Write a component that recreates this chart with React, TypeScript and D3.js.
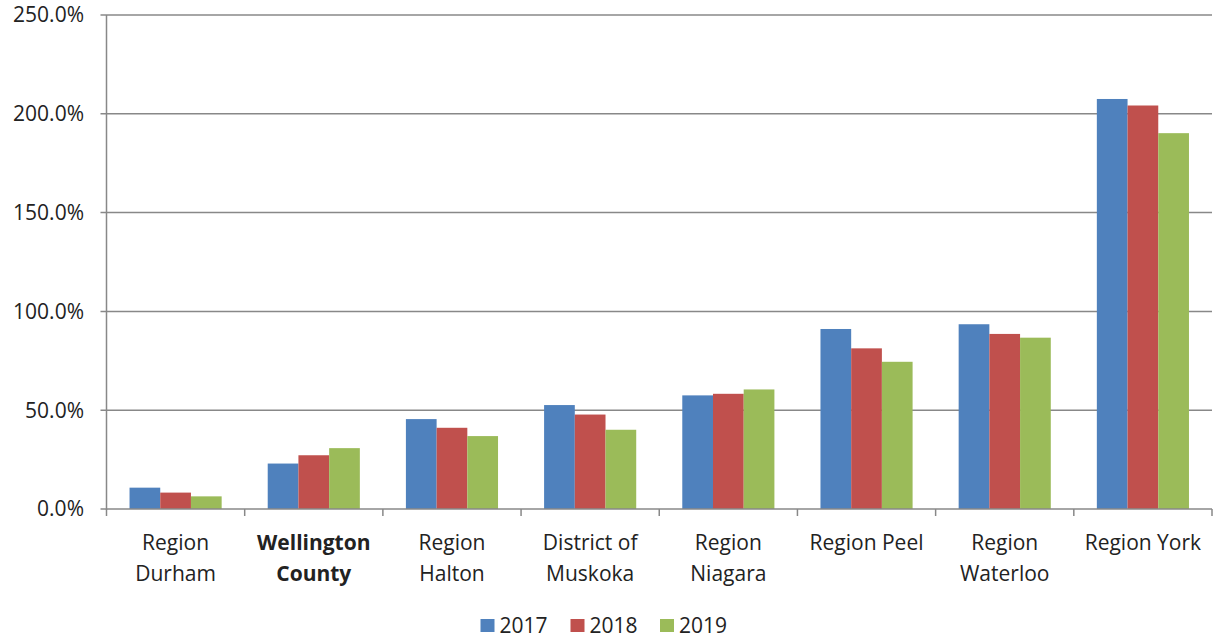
import { useEffect, useRef } from "react";
import * as d3 from "d3";

const categories: string[][] = [
  ["Region", "Durham"],
  ["Wellington", "County"],
  ["Region", "Halton"],
  ["District of", "Muskoka"],
  ["Region", "Niagara"],
  ["Region Peel"],
  ["Region", "Waterloo"],
  ["Region York"],
];
const boldIndex = 1;
const years = ["2017", "2018", "2019"];
const values2017 = [10.8, 23.0, 45.5, 52.6, 57.5, 91.1, 93.5, 207.5];
const values2018 = [8.3, 27.2, 41.1, 47.8, 58.3, 81.3, 88.6, 204.2];
const values2019 = [6.4, 30.8, 36.9, 40.1, 60.5, 74.5, 86.7, 190.2];
const yTicks = [0, 50, 100, 150, 200, 250];
const colors = ["#4F81BD", "#C0504D", "#9BBB59"];

const W = 1220;
const H = 641;
const m = { left: 106.5, right: 8, top: 15, bottom: 132 };
const FONT = "'Open Sans', sans-serif";
const FS = 21;

export default function App() {
  const ref = useRef<SVGSVGElement>(null);

  useEffect(() => {
    const svg = d3.select(ref.current);
    svg.selectAll("*").remove();
    const series = [values2017, values2018, values2019];
    const x0 = d3
      .scaleBand<number>()
      .domain(d3.range(categories.length))
      .range([m.left, W - m.right])
      .paddingInner(0)
      .paddingOuter(0);
    const x1 = d3
      .scaleBand<number>()
      .domain([0, 1, 2])
      .range([0, x0.bandwidth()])
      .paddingOuter(0.75)
      .paddingInner(0);
    const y = d3
      .scaleLinear()
      .domain([0, 250])
      .range([H - m.bottom, m.top]);

    // grid
    svg
      .append("g")
      .selectAll("line")
      .data(yTicks.filter((t) => t > 0))
      .join("line")
      .attr("x1", m.left - 6)
      .attr("x2", W - m.right)
      .attr("y1", (d) => y(d))
      .attr("y2", (d) => y(d))
      .attr("stroke", "#888")
      .attr("stroke-width", 1.5);

    // bars
    series.forEach((vals, si) => {
      svg
        .append("g")
        .selectAll("rect")
        .data(vals)
        .join("rect")
        .attr("x", (d, i) => x0(i)! + x1(si)!)
        .attr("width", x1.bandwidth())
        .attr("y", (d) => y(d))
        .attr("height", (d) => y(0) - y(d))
        .attr("fill", colors[si]);
    });

    // y axis
    const yAxis = svg.append("g");
    yAxis
      .append("line")
      .attr("x1", m.left)
      .attr("x2", m.left)
      .attr("y1", y(250))
      .attr("y2", y(0) + 1)
      .attr("stroke", "#888")
      .attr("stroke-width", 1.5);
    yAxis
      .selectAll("text")
      .data(yTicks)
      .join("text")
      .attr("x", 84)
      .attr("y", (d) => y(d))
      .attr("dy", "0.35em")
      .attr("text-anchor", "end")
      .attr("font-family", FONT)
      .attr("font-size", FS)
      .attr("fill", "#222")
      .text((d) => d3.format(".1f")(d) + "%");
    yAxis
      .append("line")
      .attr("x1", m.left - 6)
      .attr("x2", m.left)
      .attr("y1", y(0))
      .attr("y2", y(0))
      .attr("stroke", "#888")
      .attr("stroke-width", 1.5);

    // x axis
    const xAxis = svg.append("g");
    xAxis
      .append("line")
      .attr("x1", m.left)
      .attr("x2", W - m.right)
      .attr("y1", y(0))
      .attr("y2", y(0))
      .attr("stroke", "#888")
      .attr("stroke-width", 1.5);
    xAxis
      .selectAll("line.tick")
      .data(d3.range(categories.length + 1))
      .join("line")
      .attr("class", "tick")
      .attr("x1", (i) => m.left + i * x0.step())
      .attr("x2", (i) => m.left + i * x0.step())
      .attr("y1", y(0))
      .attr("y2", y(0) + 7)
      .attr("stroke", "#888")
      .attr("stroke-width", 1.5);
    const labels = xAxis
      .selectAll("text")
      .data(categories)
      .join("text")
      .attr("x", (d, i) => x0(i)! + x0.bandwidth() / 2)
      .attr("y", 550)
      .attr("text-anchor", "middle")
      .attr("font-family", FONT)
      .attr("font-size", FS)
      .attr("font-weight", (d, i) => (i === boldIndex ? "bold" : "normal"))
      .attr("fill", "#222");
    labels
      .selectAll("tspan")
      .data((d, i) => d.map((s) => ({ s, i })))
      .join("tspan")
      .attr("x", (d) => x0(d.i)! + x0.bandwidth() / 2)
      .attr("dy", (d, j) => (j === 0 ? 0 : 31))
      .text((d) => d.s);

    // legend
    const legend = svg.append("g");
    const lx = [480.5, 570.5, 660];
    years.forEach((yr, i) => {
      legend
        .append("rect")
        .attr("x", lx[i])
        .attr("y", 619)
        .attr("width", 14)
        .attr("height", 13)
        .attr("fill", colors[i]);
      legend
        .append("text")
        .attr("x", lx[i] + 19)
        .attr("y", 626)
        .attr("dy", "0.35em")
        .attr("font-family", FONT)
        .attr("font-size", FS)
        .attr("fill", "#222")
        .text(yr);
    });
  }, []);

  return (
    <svg
      ref={ref}
      width={W}
      height={H}
      style={{ position: "absolute", left: 0, top: 0, background: "#fff" }}
    />
  );
}
